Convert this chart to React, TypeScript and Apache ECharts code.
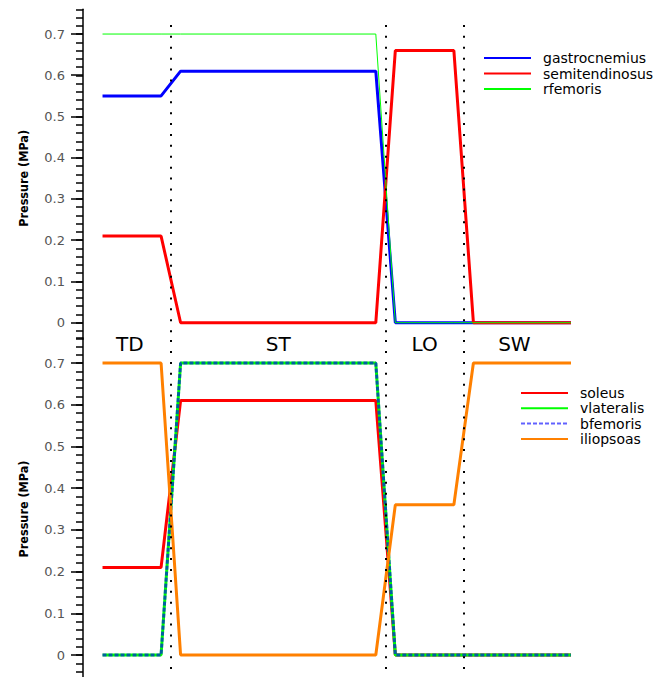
import React, { useEffect, useRef } from 'react';
import * as echarts from 'echarts';

const times = [0, 3, 4, 14, 15, 18, 19, 24];
const gastrocnemius = [0.55, 0.55, 0.61, 0.61, 0, 0, 0, 0];
const semitendinosus = [0.21, 0.21, 0, 0, 0.66, 0.66, 0, 0];
const rfemoris = [0.7, 0.7, 0.7, 0.7, 0, 0, 0, 0];
const soleus = [0.21, 0.21, 0.61, 0.61, 0, 0, 0, 0];
const vlateralis = [0, 0, 0.7, 0.7, 0, 0, 0, 0];
const bfemoris = [0, 0, 0.7, 0.7, 0, 0, 0, 0];
const iliopsoas = [0.7, 0.7, 0, 0, 0.36, 0.36, 0.7, 0.7];

const phaseBounds = [3.5, 14.5, 18.5];
const phaseNames = ['TD', 'ST', 'LO', 'SW'];
const phaseCenters = [1.4, 9, 16.5, 21.1];

const topNames = ['gastrocnemius', 'semitendinosus', 'rfemoris'];
const bottomNames = ['soleus', 'vlateralis', 'bfemoris', 'iliopsoas'];

const Y_LABEL_MIN = 0;
const Y_LABEL_MAX = 0.7;
const Y_MAJOR = 0.1;
const Y_MINOR = 0.02;
const TOP_MIN = -0.04;
const TOP_MAX = 0.76;
const BOT_MIN = -0.06;
const BOT_MAX = 0.76;
const DOT_TOP = 0.722;

function pairs(vals: number[]) {
  return times.map((t, i) => [t, vals[i]]);
}

// main axis: axis line + minor ticks only
function minorAxis(gridIndex: number, min: number, max: number) {
  return {
    type: 'value',
    gridIndex,
    min,
    max,
    interval: Y_MINOR,
    axisLine: { show: true, onZero: false, lineStyle: { color: '#000', width: 1.5 } },
    axisTick: { show: true, length: 7, lineStyle: { color: '#000', width: 1.5 } },
    axisLabel: { show: false },
    splitLine: { show: false },
  };
}

// overlay axis: major ticks, labels and name
function majorAxis(gridIndex: number) {
  return {
    type: 'value',
    gridIndex,
    min: Y_LABEL_MIN,
    max: Y_LABEL_MAX,
    interval: Y_MAJOR,
    name: 'Pressure (MPa)',
    nameLocation: 'middle',
    nameRotate: 90,
    nameGap: 53,
    nameTextStyle: {
      fontFamily: 'DejaVu Sans Condensed',
      fontWeight: 'bold',
      fontSize: 12.5,
      color: '#000',
    },
    axisLine: { show: false, onZero: false },
    axisTick: { show: true, length: 12, lineStyle: { color: '#000', width: 1.5 } },
    axisLabel: {
      margin: 18,
      fontSize: 13,
      fontFamily: 'DejaVu Sans',
      color: '#555',
      formatter: (v: number) => String(Math.round(v * 10) / 10),
    },
    splitLine: { show: false },
  };
}

const dotStyle = { color: '#000', width: 2, type: [2, 8.9] };

function lineSeries(name: string, vals: number[], color: string, width: number, idx: number, extra: any = {}) {
  return {
    name,
    type: 'line',
    xAxisIndex: idx,
    yAxisIndex: idx,
    data: pairs(vals),
    symbol: 'none',
    showSymbol: false,
    lineStyle: { color, width },
    itemStyle: { color },
    ...extra,
  };
}

const legendText = {
  fontSize: 14,
  fontFamily: 'DejaVu Sans',
  color: '#000',
  padding: [0, 0, 0, 7],
};

const hiddenX = (gridIndex: number) => ({ type: 'value', gridIndex, min: -1, max: 24, show: false });
const gridCfg = (top: number, height: number) => ({
  left: 83,
  right: 85,
  top,
  height,
  containLabel: false,
  outerBoundsMode: 'none',
});

export default function App() {
  const ref = useRef<HTMLDivElement>(null);
  useEffect(() => {
    if (!ref.current) return;
    const chart = echarts.init(ref.current, undefined, { renderer: 'svg' });
    const option: any = {
      animation: false,
      grid: [
        gridCfg(9.3, 329.9),
        gridCfg(338, 342),
        gridCfg(34, 288.7),
        gridCfg(363, 292),
      ],
      xAxis: [hiddenX(0), hiddenX(1), hiddenX(2), hiddenX(3)],
      yAxis: [
        minorAxis(0, TOP_MIN, TOP_MAX),
        minorAxis(1, BOT_MIN, BOT_MAX),
        majorAxis(2),
        majorAxis(3),
      ],
      legend: [
        {
          data: topNames,
          orient: 'vertical',
          left: 478,
          top: 46,
          itemWidth: 47,
          itemHeight: 10,
          itemGap: 1.5,
          selectedMode: false,
          itemStyle: { opacity: 0 },
          textStyle: legendText,
        },
        {
          data: bottomNames,
          orient: 'vertical',
          left: 515,
          top: 381,
          itemWidth: 47,
          itemHeight: 10,
          itemGap: 1.3,
          selectedMode: false,
          itemStyle: { opacity: 0 },
          textStyle: legendText,
        },
      ],
      series: [
        lineSeries('gastrocnemius', gastrocnemius, '#0000ff', 3, 0, {
          markLine: {
            silent: true,
            symbol: ['none', 'none'],
            label: { show: false },
            lineStyle: dotStyle,
            data: phaseBounds.map((b) => [{ coord: [b, DOT_TOP] }, { coord: [b, TOP_MIN] }]),
          },
        }),
        lineSeries('semitendinosus', semitendinosus, '#ff0000', 3, 0),
        lineSeries('rfemoris', rfemoris, '#00ff00', 1, 0),
        lineSeries('soleus', soleus, '#ff0000', 3, 1, {
          markLine: {
            silent: true,
            symbol: ['none', 'none'],
            label: { show: false },
            lineStyle: dotStyle,
            data: phaseBounds.map((b) => ({ xAxis: b })),
          },
        }),
        lineSeries('vlateralis', vlateralis, '#00ff00', 3, 1),
        lineSeries('bfemoris', bfemoris, 'rgba(0,0,255,0.62)', 3, 1, {
          lineStyle: { color: 'rgba(0,0,255,0.62)', width: 3, type: [4, 2] },
        }),
        lineSeries('iliopsoas', iliopsoas, '#ff8000', 3, 1),
      ],
    };
    chart.setOption(option);
    const graphics = phaseNames.map((n, i) => {
      const px = chart.convertToPixel({ xAxisIndex: 1 }, phaseCenters[i]) as number;
      return {
        type: 'text',
        x: px,
        y: 344,
        style: {
          text: n,
          fontSize: 20,
          fontFamily: 'DejaVu Sans',
          fill: '#000',
          align: 'center',
          verticalAlign: 'middle',
        },
      };
    });
    chart.setOption({ graphic: graphics });
    return () => chart.dispose();
  }, []);
  return (
    <div
      ref={ref}
      style={{ position: 'absolute', left: 0, top: 0, width: 656, height: 677 }}
    />
  );
}
